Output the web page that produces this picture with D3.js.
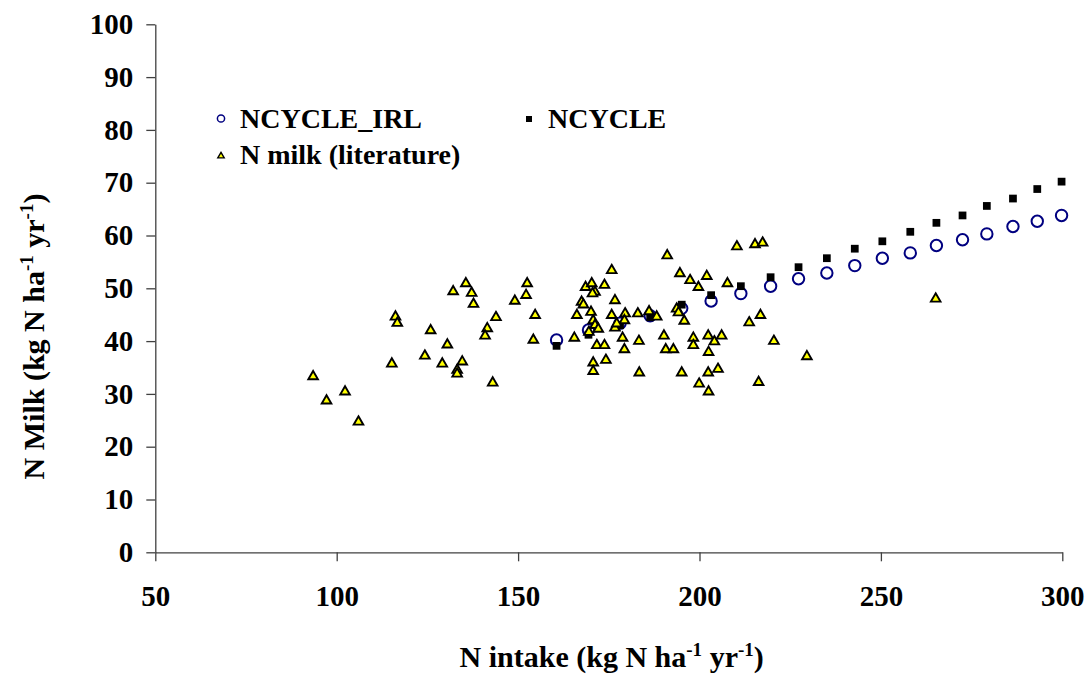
<!DOCTYPE html>
<html lang="en">
<head>
<meta charset="UTF-8">
<title>N Milk vs N intake</title>
<script src="https://d3js.org/d3.v7.min.js"></script>
<style>
  body { margin: 0; background: #fff; }
  svg text { font-family: "Liberation Serif", "DejaVu Serif", "Times New Roman", Times, serif !important; font-weight: bold; fill: #000; }
  .axis path, .axis line { stroke: #404040; stroke-width: 1.3; }
  .axis text { font-size: 29px; }
</style>
</head>
<body>
<div id="chart"></div>
<script>
// model runs share the same N intake steps
const modelIntake = [160.6, 169.4, 178.1, 186.4, 195.1, 203.2, 211.4, 219.6, 227.3, 235.1,
                     242.8, 250.4, 258.1, 265.3, 272.5, 279.2, 286.4, 293.1, 299.8];
const ncycleIrlMilk = [40.2, 42.1, 43.4, 44.8, 46.2, 47.6, 49.0, 50.4, 51.8, 52.9,
                       54.3, 55.7, 56.7, 58.1, 59.2, 60.3, 61.7, 62.7, 63.8];
const ncycleMilk = [39.1, 41.2, 43.0, 44.5, 46.9, 48.7, 50.4, 52.1, 54.0, 55.7,
                    57.5, 58.9, 60.7, 62.4, 63.8, 65.6, 67.0, 68.8, 70.2];

// literature points (intake, milk)
const litIntake = [93.5, 97.2, 102.3, 106.0, 115.2, 116.2, 116.7, 124.3, 125.9, 135.6,
                   132.1, 137.2, 137.7, 152.5, 152.2, 149.1, 154.7, 143.9, 141.5, 140.9,
                   130.5, 154.2, 129.1, 134.6, 133.2, 133.2, 143.0, 165.5, 166.2, 167.5,
                   168.0, 168.6, 170.3, 173.8, 171.2, 170.5, 175.8, 176.7, 170.1, 170.7,
                   175.8, 179.5, 179.3, 183.0, 186.1, 188.2, 171.2, 172.1, 169.5, 176.7,
                   177.2, 178.8, 183.3, 190.2, 171.7, 173.8, 179.3, 190.7, 192.8, 174.2,
                   170.7, 170.7, 183.4, 195.1, 191.1, 194.6, 197.4, 199.7, 193.7, 194.2,
                   195.8, 198.3, 198.3, 210.3, 215.3, 217.4, 202.0, 207.7, 265.1, 213.7,
                   216.8, 202.4, 204.1, 206.1, 202.5, 220.5, 229.6, 202.4, 205.1, 199.9,
                   202.5, 216.3];
const litMilk = [33.3, 28.7, 30.4, 24.7, 35.7, 44.6, 43.4, 37.2, 42.0, 50.9,
                 49.4, 49.1, 47.0, 50.9, 48.7, 47.6, 44.9, 44.5, 42.4, 41.0,
                 39.3, 40.2, 35.7, 36.1, 34.5, 33.8, 32.1, 40.6, 44.9, 47.4,
                 46.9, 50.2, 50.9, 50.6, 49.3, 49.0, 53.4, 47.7, 45.5, 43.9,
                 44.9, 45.2, 43.9, 45.2, 45.6, 44.6, 43.0, 42.3, 41.7, 42.5,
                 43.3, 40.6, 40.0, 41.0, 39.2, 39.2, 38.4, 38.4, 38.4, 36.4,
                 35.9, 34.3, 34.0, 34.0, 56.2, 52.8, 51.5, 50.2, 46.1, 45.4,
                 43.8, 40.6, 39.2, 57.9, 58.3, 58.6, 52.3, 50.9, 48.0, 43.5,
                 44.9, 41.0, 39.9, 41.0, 37.9, 40.0, 37.1, 34.0, 34.7, 31.9,
                 30.4, 32.2];

const xTicks = [50, 100, 150, 200, 250, 300];
const yTicks = [0, 10, 20, 30, 40, 50, 60, 70, 80, 90, 100];

const width = 1089;
const height = 677;
const margin = { top: 24.3, right: 26.7, bottom: 124.7, left: 155.3 };
const w = width - margin.left - margin.right;
const h = height - margin.top - margin.bottom;
const serif = "'Liberation Serif', 'DejaVu Serif', 'Times New Roman', serif";

const svg = d3.select("#chart").append("svg")
    .attr("width", width)
    .attr("height", height)
    .attr("font-family", serif)
    .attr("font-weight", "bold");

const g = svg.append("g")
    .attr("transform", `translate(${margin.left},${margin.top})`);

const x = d3.scaleLinear().domain([50, 300]).range([0, w]);
const y = d3.scaleLinear().domain([0, 100]).range([h, 0]);

const xAxis = g.append("g")
    .attr("class", "axis")
    .attr("transform", `translate(0,${h})`)
    .call(d3.axisBottom(x).tickValues(xTicks).tickSize(9).tickSizeOuter(0).tickPadding(24));

const yAxis = g.append("g")
    .attr("class", "axis")
    .call(d3.axisLeft(y).tickValues(yTicks).tickSize(9).tickSizeOuter(0).tickPadding(13));

// d3 axes put their own sans-serif font on the group
xAxis.attr("font-family", serif).attr("font-size", 29);
yAxis.attr("font-family", serif).attr("font-size", 29);

const square = d3.symbol().type(d3.symbolSquare);
const triangle = d3.symbol().type(d3.symbolTriangle);

// NCYCLE_IRL (open circles)
g.append("g").selectAll("circle")
    .data(modelIntake.map((d, i) => [d, ncycleIrlMilk[i]]))
    .join("circle")
    .attr("cx", d => x(d[0]))
    .attr("cy", d => y(d[1]))
    .attr("r", 5.7)
    .attr("fill", "#fff")
    .attr("stroke", "#000080")
    .attr("stroke-width", 2);

// NCYCLE (filled squares)
g.append("g").selectAll("path")
    .data(modelIntake.map((d, i) => [d, ncycleMilk[i]]))
    .join("path")
    .attr("transform", d => `translate(${x(d[0])},${y(d[1])})`)
    .attr("d", square.size(60)())
    .attr("fill", "#000");

// literature triangles
g.append("g").selectAll("path")
    .data(litIntake.map((d, i) => [d, litMilk[i]]))
    .join("path")
    .attr("transform", d => `translate(${x(d[0])},${y(d[1])})`)
    .attr("d", triangle.size(40)())
    .attr("fill", "#ffff00")
    .attr("stroke", "#000")
    .attr("stroke-width", 1.9)
    .attr("stroke-linejoin", "miter");

// legend
const legend = svg.append("g").attr("font-size", 28);
legend.append("circle")
    .attr("cx", 221).attr("cy", 118.5).attr("r", 3.6)
    .attr("fill", "#fff").attr("stroke", "#000080").attr("stroke-width", 1.5);
legend.append("text").attr("x", 240).attr("y", 128.3).text("NCYCLE_IRL");

legend.append("path")
    .attr("transform", "translate(529,119)")
    .attr("d", square.size(36)())
    .attr("fill", "#000");
legend.append("text").attr("x", 548).attr("y", 127.8).text("NCYCLE");

legend.append("path")
    .attr("transform", "translate(221,156)")
    .attr("d", triangle.size(18)())
    .attr("fill", "#ffff00").attr("stroke", "#000").attr("stroke-width", 1.4);
legend.append("text").attr("x", 240).attr("y", 164).text("N milk (literature)");

// axis titles with superscripts
function unitTitle(sel, lead) {
    sel.append("tspan").text(lead + " (kg N ha");
    sel.append("tspan").attr("dy", -11).attr("font-size", 19).text("-1");
    sel.append("tspan").attr("dy", 11).text(" yr");
    sel.append("tspan").attr("dy", -11).attr("font-size", 19).text("-1");
    sel.append("tspan").attr("dy", 11).text(")");
}

svg.append("text")
    .attr("x", 611.7)
    .attr("y", 667)
    .attr("text-anchor", "middle")
    .attr("font-size", 30)
    .call(unitTitle, "N intake");

svg.append("text")
    .attr("transform", "translate(43.5,336.5) rotate(-90)")
    .attr("text-anchor", "middle")
    .attr("font-size", 30)
    .call(unitTitle, "N Milk");
</script>
</body>
</html>
